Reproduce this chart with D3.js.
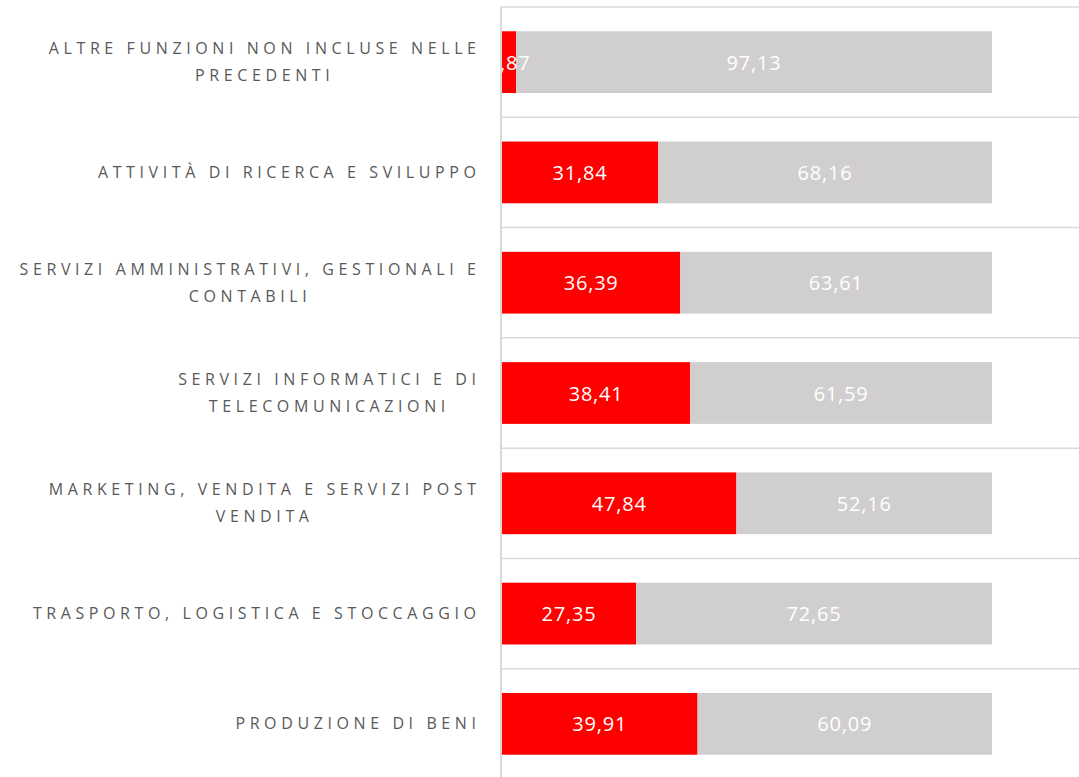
<!DOCTYPE html>
<html>
<head>
<meta charset="utf-8">
<script src="https://cdn.jsdelivr.net/npm/d3@7"></script>
<style>
  body { margin: 0; background: #fff; }
  svg { display: block; font-family: "Open Sans", sans-serif; }
</style>
</head>
<body>
<div id="chart"></div>
<script>
/* DATA */
const categories = [
  "ALTRE FUNZIONI NON INCLUSE NELLE PRECEDENTI",
  "ATTIVITÀ DI RICERCA E SVILUPPO",
  "SERVIZI AMMINISTRATIVI, GESTIONALI E CONTABILI",
  "SERVIZI INFORMATICI E DI TELECOMUNICAZIONI",
  "MARKETING, VENDITA E SERVIZI POST VENDITA",
  "TRASPORTO, LOGISTICA E STOCCAGGIO",
  "PRODUZIONE DI BENI"
];
const redValues  = [2.87, 31.84, 36.39, 38.41, 47.84, 27.35, 39.91];
const greyValues = [97.13, 68.16, 63.61, 61.59, 52.16, 72.65, 60.09];

/* CONSTANTS */
const width = 1079, height = 777;
const labelRight = 476, maxLabelWidth = 468, letterSpacing = 4.6;
const fmt = v => d3.format(".2f")(v).replace(".", ",");

const rows = categories.map((c, i) => ({ cat: c, red: redValues[i], grey: greyValues[i] }));

const svg = d3.select("#chart").append("svg")
  .attr("width", width)
  .attr("height", height);

// SCALES
const xScale = d3.scaleLinear().domain([0, 100]).range([502, 992]);
const yScale = d3.scaleBand()
  .domain(categories)
  .range([7, 779])
  .paddingInner(0.44)
  .paddingOuter(0.22);

const step = yScale.step();
const boundaries = d3.range(categories.length + 1).map(i => yScale(categories[0]) - step * 0.22 + i * step);

// gridlines between categories
svg.append("g")
  .selectAll("line")
  .data(boundaries)
  .join("line")
  .attr("x1", 501).attr("x2", width)
  .attr("y1", d => d).attr("y2", d => d)
  .attr("stroke", "#d9d9d9")
  .attr("stroke-width", 1.5);

// vertical axis line
svg.append("line")
  .attr("x1", 501).attr("x2", 501)
  .attr("y1", boundaries[0]).attr("y2", height)
  .attr("stroke", "#d9d9d9")
  .attr("stroke-width", 2);

// clip for value labels (plot area)
svg.append("clipPath").attr("id", "plot")
  .append("rect")
  .attr("x", 502).attr("y", 0)
  .attr("width", width - 502).attr("height", height);

// BARS
const bars = svg.append("g");
bars.selectAll("rect.red")
  .data(rows)
  .join("rect")
  .attr("class", "red")
  .attr("x", xScale(0))
  .attr("y", d => yScale(d.cat))
  .attr("width", d => xScale(d.red) - xScale(0))
  .attr("height", yScale.bandwidth())
  .attr("fill", "#ff0000");

bars.selectAll("rect.grey")
  .data(rows)
  .join("rect")
  .attr("class", "grey")
  .attr("x", d => xScale(d.red))
  .attr("y", d => yScale(d.cat))
  .attr("width", d => xScale(d.red + d.grey) - xScale(d.red))
  .attr("height", yScale.bandwidth())
  .attr("fill", "#d0cece");

// VALUE LABELS
const vals = svg.append("g").attr("clip-path", "url(#plot)")
  .attr("font-size", 20).attr("fill", "#fff").attr("text-anchor", "middle")
  .style("letter-spacing", "0.8px");

vals.selectAll("text.rv")
  .data(rows)
  .join("text")
  .attr("class", "rv")
  .attr("x", d => (xScale(0) + xScale(d.red)) / 2)
  .attr("y", d => yScale(d.cat) + yScale.bandwidth() / 2)
  .attr("dy", "0.38em")
  .text(d => fmt(d.red));

vals.selectAll("text.gv")
  .data(rows)
  .join("text")
  .attr("class", "gv")
  .attr("x", d => (xScale(d.red) + xScale(d.red + d.grey)) / 2)
  .attr("y", d => yScale(d.cat) + yScale.bandwidth() / 2)
  .attr("dy", "0.38em")
  .text(d => fmt(d.grey));

// CATEGORY LABELS (wrapped, block right-aligned, lines centred)
const labels = svg.append("g")
  .attr("font-size", 16)
  .attr("fill", "#595959")
  .style("letter-spacing", letterSpacing + "px");

const measure = labels.append("text").attr("x", -1000).attr("y", -1000);
const textWidth = s => { measure.text(s); return measure.node().getComputedTextLength(); };

rows.forEach(d => {
  const words = d.cat.split(" ");
  const lines = [];
  let cur = "";
  words.forEach(w => {
    const test = cur ? cur + " " + w : w;
    if (cur && textWidth(test) - letterSpacing > maxLabelWidth) {
      lines.push(cur);
      cur = w;
    } else cur = test;
  });
  lines.push(cur);

  const widths = lines.map(textWidth);
  const blockW = d3.max(widths);
  const blockRight = labelRight + letterSpacing;
  const cy = yScale(d.cat) + yScale.bandwidth() / 2;
  const lineH = 27;

  lines.forEach((ln, i) => {
    labels.append("text")
      .attr("x", blockRight - blockW + (blockW - widths[i]) / 2)
      .attr("y", cy + (i - (lines.length - 1) / 2) * lineH)
      .attr("dy", "0.35em")
      .text(ln);
  });
});
measure.remove();
</script>
</body>
</html>
